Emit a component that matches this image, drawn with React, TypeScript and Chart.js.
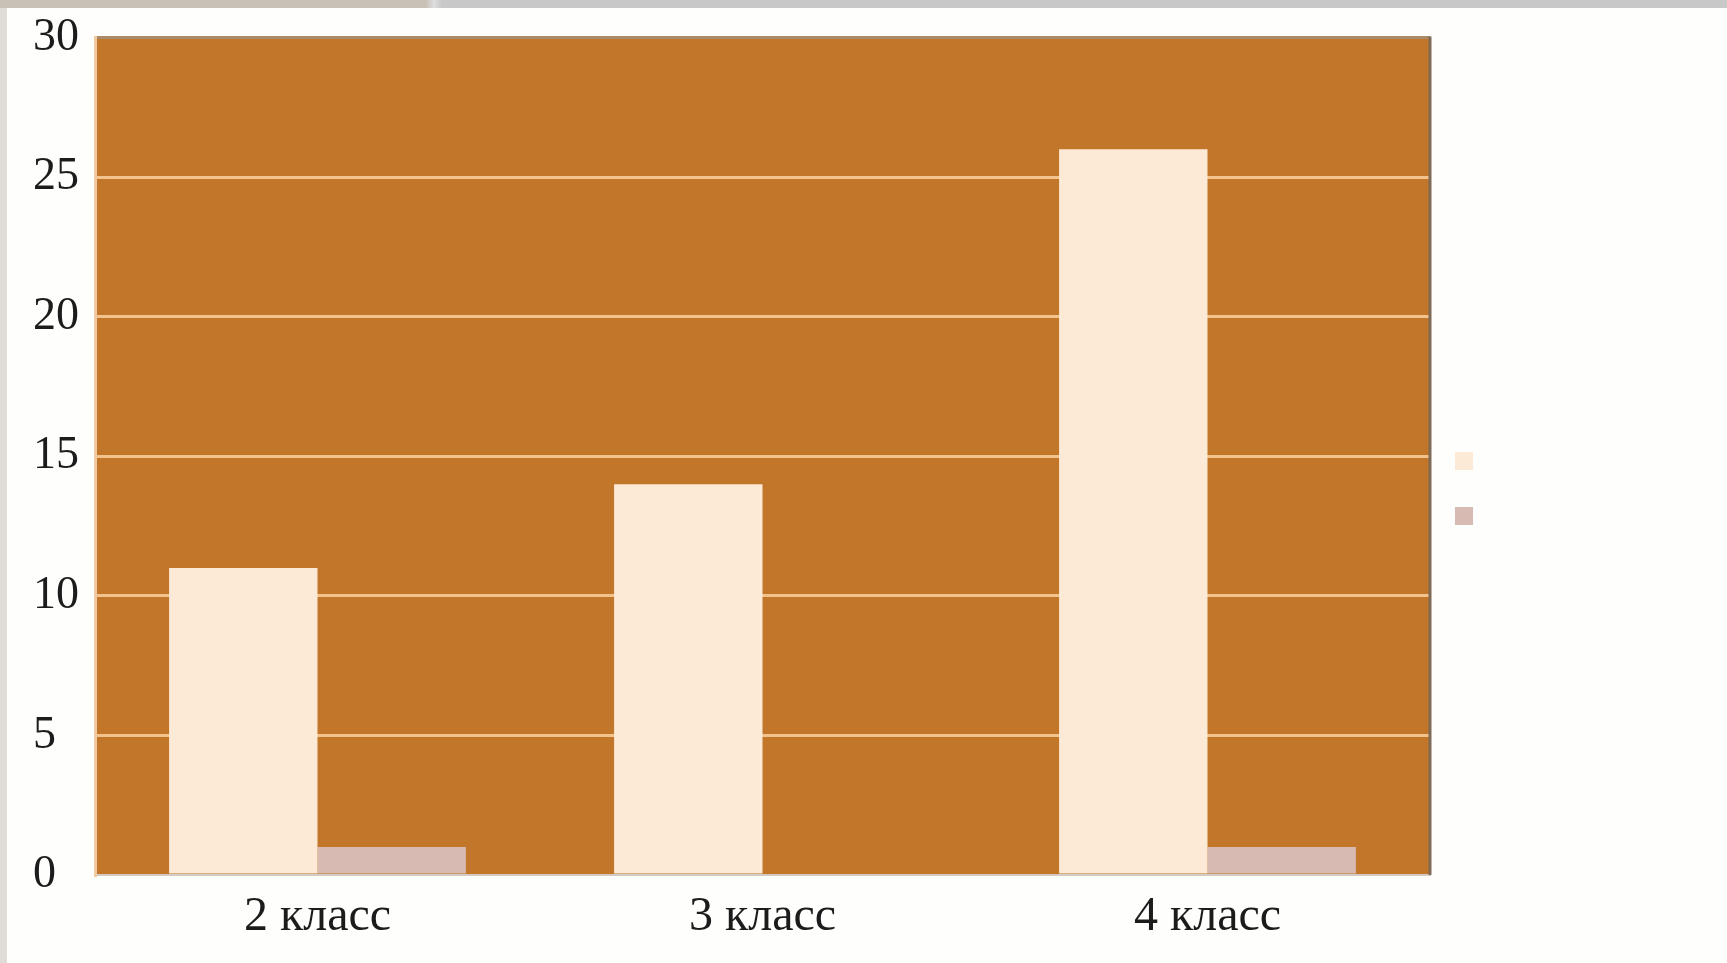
import { useEffect, useRef } from "react";
import { Chart, registerables } from "chart.js";

Chart.register(...registerables);

// Chart data
const categories = ["2 класс", "3 класс", "4 класс"];
const seriesA = [11, 14, 26];
const seriesB = [1, 0, 1];
const yTicks = [0, 5, 10, 15, 20, 25, 30];

// Palette
const PLOT_BG = "#C1762A";
const GRID = "#F3C38D";
const BAR_A = "#FCEAD6";
const BAR_B = "#D7BAB1";
const TEXT = "#1c1c1c";
const SERIF = '"Liberation Serif", "Times New Roman", serif';

const W = 1727;
const H = 963;

// Fills the plot area and draws its shaded right edge
const plotFrame = {
  id: "plotFrame",
  beforeDraw(chart: any) {
    const { ctx, chartArea: a } = chart;
    ctx.save();
    ctx.fillStyle = PLOT_BG;
    ctx.fillRect(a.left, a.top, a.right - a.left, a.bottom - a.top);
    ctx.restore();
  },
  afterDatasetsDraw(chart: any) {
    const { ctx, chartArea: a } = chart;
    ctx.save();
    ctx.strokeStyle = "#7e6a55";
    ctx.lineWidth = 3;
    ctx.beginPath();
    ctx.moveTo(a.right, a.top - 1);
    ctx.lineTo(a.right, a.bottom);
    ctx.stroke();
    ctx.restore();
  },
};

export default function App() {
  const canvasRef = useRef<HTMLCanvasElement | null>(null);

  useEffect(() => {
    const canvas = canvasRef.current;
    if (!canvas) return;
    const chart = new Chart(canvas, {
      type: "bar",
      data: {
        labels: categories,
        datasets: [
          {
            label: "",
            data: seriesA,
            backgroundColor: BAR_A,
            borderWidth: 0,
            categoryPercentage: 0.667,
            barPercentage: 1,
          },
          {
            label: "",
            data: seriesB,
            backgroundColor: BAR_B,
            borderWidth: 0,
            categoryPercentage: 0.667,
            barPercentage: 1,
          },
        ],
      },
      options: {
        responsive: false,
        animation: false,
        devicePixelRatio: 1,
        layout: {
          padding: { left: 33, top: 34, right: 229, bottom: 20 },
        },
        plugins: {
          tooltip: { enabled: false },
          title: { display: false },
          legend: {
            display: true,
            position: "right",
            labels: {
              boxWidth: 18,
              boxHeight: 18,
              padding: 25,
              font: { size: 30, family: SERIF },
              color: TEXT,
            },
          },
        },
        scales: {
          x: {
            grid: { display: false, drawTicks: false },
            border: { display: true, color: "#d3cbc3", width: 2 },
            ticks: {
              padding: 14,
              color: TEXT,
              font: { size: 48, family: SERIF },
              maxRotation: 0,
            },
            afterFit: (scale: any) => {
              scale.height = 68;
            },
          },
          y: {
            min: 0,
            max: 30,
            afterBuildTicks: (scale: any) => {
              scale.ticks = yTicks.map((v) => ({ value: v }));
            },
            grid: {
              drawTicks: false,
              color: (c: any) =>
                c.tick && c.tick.value === 30
                  ? "#a98a69"
                  : c.tick && c.tick.value === 0
                  ? "rgba(0,0,0,0)"
                  : GRID,
              lineWidth: 3,
            },
            border: { display: true, color: "#f1caa2", width: 3 },
            ticks: {
              crossAlign: "far",
              padding: 10,
              color: TEXT,
              font: { size: 46, family: SERIF },
            },
            afterFit: (scale: any) => {
              scale.width = 62;
            },
          },
        },
      },
      plugins: [plotFrame],
    });
    return () => chart.destroy();
  }, []);

  return (
    <div
      style={{
        position: "absolute",
        left: 0,
        top: 0,
        width: W,
        height: H,
        background: "#fefffc",
        overflow: "hidden",
      }}
    >
      <div
        style={{
          position: "absolute",
          left: 0,
          top: 0,
          width: W,
          height: 8,
          background:
            "linear-gradient(to right, #c9c1b6 0px, #c9c1b6 426px, #dedede 434px, #c8c8c8 442px, #c8c8c8 100%)",
        }}
      />
      <div
        style={{
          position: "absolute",
          left: 0,
          top: 8,
          width: 7,
          height: H - 8,
          background: "#e1ddd6",
        }}
      />
      <canvas
        ref={canvasRef}
        width={W}
        height={H}
        style={{ position: "absolute", left: 0, top: 0, width: W, height: H }}
      />
    </div>
  );
}
